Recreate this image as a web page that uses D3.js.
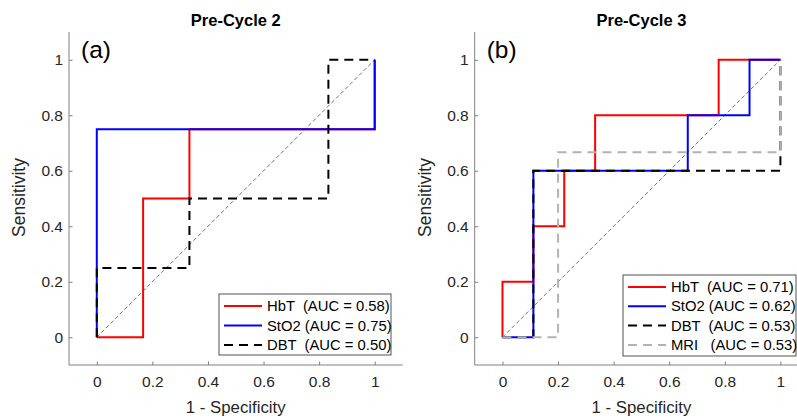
<!DOCTYPE html>
<html>
<head>
<meta charset="utf-8">
<script src="https://cdn.jsdelivr.net/npm/d3@7"></script>
<style>
  body { margin: 0; background: #fff; }
  svg text { font-family: "Liberation Sans", Arial, Helvetica, sans-serif; }
</style>
</head>
<body>
<svg id="chart" width="797" height="420"></svg>
<script>
// ---- data ----
const xTicks = [0, 0.2, 0.4, 0.6, 0.8, 1];
const yTicks = [0, 0.2, 0.4, 0.6, 0.8, 1];
const tickLabels = ["0", "0.2", "0.4", "0.6", "0.8", "1"];

// Panel (a): Pre-Cycle 2
const aHbT  = [[0,0],[1/6,0],[1/6,0.5],[1/3,0.5],[1/3,0.75],[1,0.75],[1,1]];
const aStO2 = [[0,0],[0,0.75],[1,0.75],[1,1]];
const aDBT  = [[0,0],[0,0.25],[1/3,0.25],[1/3,0.5],[5/6,0.5],[5/6,1],[1,1]];
const aLegend = ["HbT  (AUC = 0.58)", "StO2 (AUC = 0.75)", "DBT  (AUC = 0.50)"];

// Panel (b): Pre-Cycle 3
const bHbT  = [[0,0],[0,0.2],[1/9,0.2],[1/9,0.4],[2/9,0.4],[2/9,0.6],[3/9,0.6],[3/9,0.8],[7/9,0.8],[7/9,1],[1,1]];
const bStO2 = [[0,0],[1/9,0],[1/9,0.6],[6/9,0.6],[6/9,0.8],[8/9,0.8],[8/9,1],[1,1]];
const bDBT  = [[0,0],[1/9,0],[1/9,0.6],[1,0.6],[1,1]];
const bMRI  = [[0,0],[0.2,0],[0.2,2/3],[1,2/3],[1,1]];
const bLegend = ["HbT  (AUC = 0.71)", "StO2 (AUC = 0.62)", "DBT  (AUC = 0.53)", "MRI   (AUC = 0.53)"];

const diag = [[0,0],[1,1]];

// ---- styles ----
const styles = {
  HbT:  {color: "#ff0000", width: 2, dash: null},
  StO2: {color: "#0000ff", width: 2, dash: null},
  DBT:  {color: "#000000", width: 2, dash: "9,6"},
  MRI:  {color: "#b3b3b3", width: 2, dash: "9,6"}
};

const svg = d3.select("#chart");
const axisColor = "#808080";
const textColor = "#262626";

function panel(opts) {
  const x = d3.scaleLinear().domain([-0.1, 1.1]).range([opts.x0, opts.x0 + 333.5]);
  const y = d3.scaleLinear().domain([-0.1, 1.1]).range([365, 32]);
  const g = svg.append("g");

  // axes
  const xAxis = d3.axisBottom(x).tickValues(xTicks).tickSize(-3.5).tickPadding(11)
    .tickFormat((d, i) => tickLabels[i]);
  const yAxis = d3.axisLeft(y).tickValues(yTicks).tickSize(-3.5).tickPadding(6)
    .tickFormat((d, i) => tickLabels[i]);
  const gx = g.append("g").attr("transform", `translate(0,${y(-0.1)})`).call(xAxis);
  const gy = g.append("g").attr("transform", `translate(${x(-0.1)},0)`).call(yAxis);
  [gx, gy].forEach(a => {
    a.select(".domain").remove();
    a.selectAll(".tick line").attr("stroke", axisColor);
    a.selectAll(".tick text").attr("fill", textColor)
      .style("font-size", "15.5px").style("font-family", "'Liberation Sans', Arial, sans-serif");
  });
  g.append("line").attr("x1", x(-0.1)).attr("x2", x(1.1)).attr("y1", y(-0.1)).attr("y2", y(-0.1))
    .attr("stroke", axisColor).attr("stroke-width", 1);
  g.append("line").attr("x1", x(-0.1)).attr("x2", x(-0.1)).attr("y1", y(-0.1)).attr("y2", y(1.1))
    .attr("stroke", axisColor).attr("stroke-width", 1);

  const line = d3.line().x(d => x(d[0])).y(d => y(d[1]));

  // diagonal
  g.append("path").attr("d", line(diag)).attr("fill", "none")
    .attr("stroke", "#4d4d4d").attr("stroke-width", 0.8).attr("stroke-dasharray", "4,2.5");

  // curves
  opts.series.forEach(s => {
    const st = styles[s.key];
    g.append("path").attr("d", line(s.data)).attr("fill", "none")
      .attr("stroke", st.color).attr("stroke-width", st.width)
      .attr("stroke-dasharray", st.dash);
  });

  // title
  g.append("text").attr("x", x(0.5)).attr("y", 25.5).attr("text-anchor", "middle")
    .style("font-size", "16.5px").style("font-weight", "bold").attr("fill", "#000")
    .text(opts.title);
  // panel letter
  g.append("text").attr("x", x(-0.1) + 12).attr("y", 58)
    .style("font-size", "24.5px").attr("fill", "#000").text(opts.letter);
  // axis labels
  g.append("text").attr("x", x(0.5)).attr("y", 412.5).attr("text-anchor", "middle")
    .style("font-size", "16.8px").attr("fill", textColor).text("1 - Specificity");
  g.append("text").attr("transform", `translate(${x(-0.1) - 44},${y(0.5) - 1}) rotate(-90)`)
    .attr("text-anchor", "middle").style("font-size", "17.5px").attr("fill", textColor)
    .text("Sensitivity");

  // legend
  const L = opts.legend;
  const lg = g.append("g");
  lg.append("rect").attr("x", L.x).attr("y", L.y).attr("width", L.w).attr("height", L.h)
    .attr("fill", "#fff").attr("stroke", "#262626").attr("stroke-width", 0.8);
  opts.series.forEach((s, i) => {
    const st = styles[s.key];
    const yy = L.y + L.first + i * L.step;
    lg.append("line").attr("x1", L.x + 5).attr("x2", L.x + 43).attr("y1", yy).attr("y2", yy)
      .attr("stroke", st.color).attr("stroke-width", st.width)
      .attr("stroke-dasharray", st.dash);
    lg.append("text").attr("x", L.x + 48).attr("y", yy + 5)
      .style("font-size", "14.8px").style("white-space", "pre").attr("xml:space", "preserve")
      .attr("fill", "#000").text(opts.labels[i]);
  });
}

panel({
  x0: 69, title: "Pre-Cycle 2", letter: "(a)",
  series: [{key: "HbT", data: aHbT}, {key: "StO2", data: aStO2}, {key: "DBT", data: aDBT}],
  labels: aLegend,
  legend: {x: 219, y: 294, w: 172, h: 61, first: 12, step: 19.5}
});
panel({
  x0: 474.7, title: "Pre-Cycle 3", letter: "(b)",
  series: [{key: "HbT", data: bHbT}, {key: "StO2", data: bStO2}, {key: "DBT", data: bDBT}, {key: "MRI", data: bMRI}],
  labels: bLegend,
  legend: {x: 623, y: 275, w: 173, h: 81, first: 12, step: 19.3}
});
</script>
</body>
</html>
